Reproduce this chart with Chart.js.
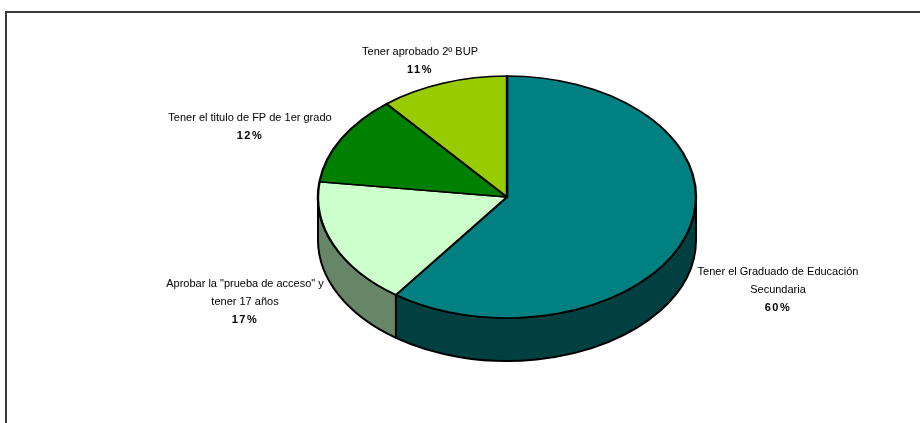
<!DOCTYPE html>
<html>
<head>
<meta charset="utf-8">
<script src="https://cdn.jsdelivr.net/npm/chart.js@4"></script>
<style>
  html, body { margin: 0; padding: 0; background: #fff; overflow: hidden; }
  #wrap { position: relative; width: 920px; height: 423px; }
  #frame {
    position: absolute; left: 5px; top: 11px; width: 940px; height: 440px;
    border: 2px solid #3a3a3a; box-sizing: border-box;
  }
  #chart { position: absolute; left: 0; top: 0; }
</style>
</head>
<body>
<div id="wrap">
  <div id="frame"></div>
  <canvas id="chart" width="920" height="423"></canvas>
</div>
<script>
// Data
const categories = [
  "Tener el Graduado de Educación Secundaria",
  "Aprobar la \"prueba de acceso\" y tener 17 años",
  "Tener el titulo de FP de 1er grado",
  "Tener aprobado 2º BUP"
];
const shares = [60, 17, 12, 11];

// label text split over lines, as in the picture
const labelLines = [
  ["Tener el Graduado de Educación", "Secundaria"],
  ["Aprobar la \"prueba de acceso\" y", "tener 17 años"],
  ["Tener el titulo de FP de 1er grado"],
  ["Tener aprobado 2º BUP"]
];

// Styles
const topColors = ['#008080', '#CCFFCC', '#008000', '#99CC00'];
const sideColors = ['#004040', '#678567', '#004000', '#4d6600'];
const tilt = 0.64;   // ry / rx of the top face
const depth = 43;    // height of the pie wall

// where each label block is centred (x, y of first line)
const labelPos = [[778, 272], [245, 284], [250, 118], [420, 52]];
const lineGap = 18;

const pie3d = {
  id: 'pie3d',
  beforeDatasetsDraw(chart) {
    const ctx = chart.ctx;
    const arcs = chart.getDatasetMeta(0).data;
    const cx = arcs[0].x, cy = arcs[0].y, r = arcs[0].outerRadius;
    const ry = r * tilt;
    // front wall, only the part between 0 and PI faces the viewer
    arcs.forEach((arc, i) => {
      const a1 = Math.max(arc.startAngle, 0);
      const a2 = Math.min(arc.endAngle, Math.PI);
      if (a2 <= a1) return;
      ctx.save();
      ctx.beginPath();
      ctx.ellipse(cx, cy, r, ry, 0, a1, a2);
      ctx.ellipse(cx, cy + depth, r, ry, 0, a2, a1, true);
      ctx.closePath();
      ctx.fillStyle = sideColors[i];
      ctx.fill();
      ctx.lineWidth = 2;
      ctx.lineJoin = 'round';
      ctx.strokeStyle = '#000';
      ctx.stroke();
      ctx.restore();
    });
    // squash the top face into an ellipse
    ctx.save();
    ctx.translate(cx, cy);
    ctx.scale(1, tilt);
    ctx.translate(-cx, -cy);
  },
  afterDatasetsDraw(chart) {
    chart.ctx.restore();
  },
  afterDraw(chart) {
    const ctx = chart.ctx;
    ctx.save();
    ctx.fillStyle = '#000';
    ctx.textAlign = 'center';
    ctx.textBaseline = 'middle';
    labelLines.forEach((lines, i) => {
      const [x, y] = labelPos[i];
      ctx.letterSpacing = '0px';
      ctx.font = '11px "Liberation Sans", Arial, sans-serif';
      lines.forEach((t, j) => ctx.fillText(t, x, y + j * lineGap));
      ctx.letterSpacing = '1.5px';
      ctx.font = 'bold 11px "Liberation Sans", Arial, sans-serif';
      ctx.fillText(shares[i] + '%', x, y + lines.length * lineGap);
    });
    ctx.restore();
  }
};

new Chart(document.getElementById('chart').getContext('2d'), {
  type: 'pie',
  data: {
    labels: categories,
    datasets: [{
      data: shares,
      backgroundColor: topColors,
      borderColor: '#000',
      borderWidth: 2.4,
      hoverOffset: 0
    }]
  },
  options: {
    responsive: false,
    animation: false,
    radius: 189,
    layout: { padding: { left: 94, right: 0, top: 0, bottom: 29 } },
    plugins: {
      legend: { display: false },
      tooltip: { enabled: false }
    }
  },
  plugins: [pie3d]
});
</script>
</body>
</html>
